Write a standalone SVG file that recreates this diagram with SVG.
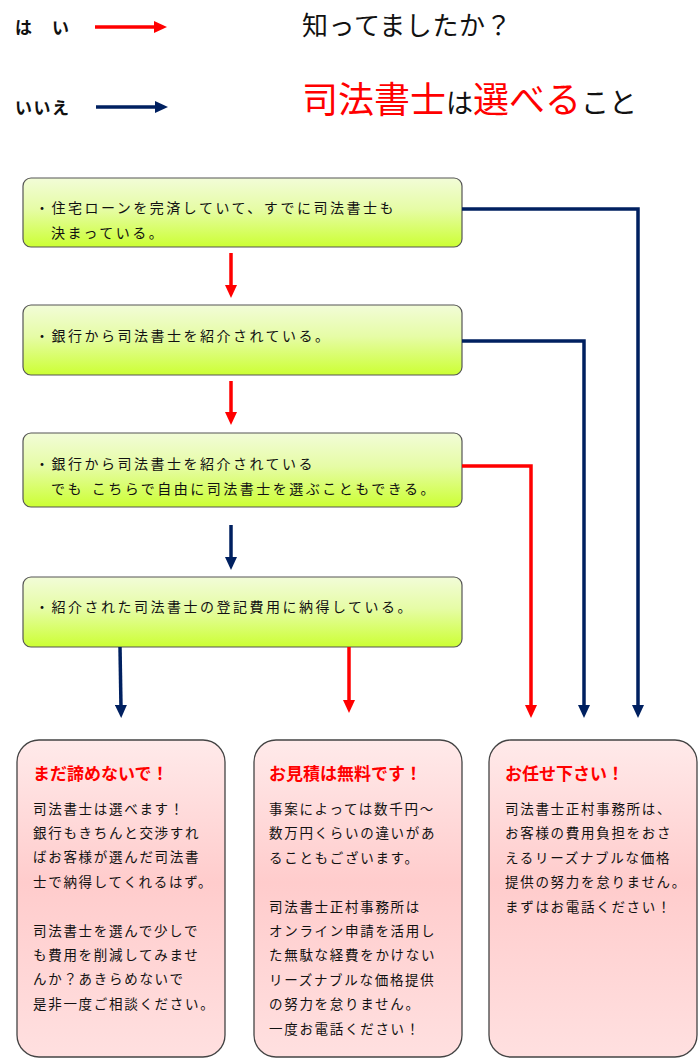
<svg xmlns="http://www.w3.org/2000/svg" width="700" height="1060" viewBox="0 0 700 1060">
<style>
text{font-family:"Noto Sans CJK JP","Noto Sans",sans-serif;fill:#111}
.leg{font-size:17px;font-weight:bold;letter-spacing:1.5px}
.nt{font-size:14px;letter-spacing:2.5px}
.bt{font-size:13.5px;letter-spacing:1.7px}
.ht{font-size:17px;font-weight:bold;fill:#ff0000}
.node rect{stroke:#555;stroke-width:1.2}
.res rect{stroke:#444;stroke-width:1.3}
.r{stroke:#ff0000;stroke-width:3.5;fill:none}
.n{stroke:#002060;stroke-width:3.5;fill:none}
</style>
<defs>
<linearGradient id="g" x1="0" y1="0" x2="0" y2="1">
<stop offset="0" stop-color="#f2fcd8"/>
<stop offset="0.45" stop-color="#e6fca6"/>
<stop offset="1" stop-color="#ccff33"/>
</linearGradient>
<linearGradient id="p" x1="0" y1="0" x2="0" y2="1">
<stop offset="0" stop-color="#ffeaea"/>
<stop offset="0.45" stop-color="#ffcccc"/>
<stop offset="1" stop-color="#ffe0e0"/>
</linearGradient>
<marker id="ar" markerUnits="userSpaceOnUse" markerWidth="13" markerHeight="12" refX="3" refY="6" orient="auto"><path d="M0,0 L13,6 L0,12 z" fill="#ff0000"/></marker>
<marker id="an" markerUnits="userSpaceOnUse" markerWidth="13" markerHeight="12" refX="3" refY="6" orient="auto"><path d="M0,0 L13,6 L0,12 z" fill="#002060"/></marker>
</defs>

<g id="legend">
<text class="leg" x="15" y="34">は　い</text>
<line class="r" x1="95" y1="27" x2="157" y2="27" marker-end="url(#ar)"/>
<text class="leg" x="15" y="114">いいえ</text>
<line class="n" x1="96" y1="107" x2="158" y2="107" marker-end="url(#an)"/>
</g>

<g id="title">
<text x="302" y="35" style="font-size:26px;letter-spacing:0.6px">知ってましたか？</text>
<text x="302" y="113"><tspan style="font-size:36px;fill:#ff0000">司法書士</tspan><tspan style="font-size:27px">は</tspan><tspan style="font-size:36px;fill:#ff0000">選べる</tspan><tspan style="font-size:28px">こと</tspan></text>
</g>

<g id="q1" class="node"><rect x="23" y="178" width="439" height="69" rx="8" fill="url(#g)"/>
<text class="nt" x="35" y="213">・住宅ローンを完済していて、すでに司法書士も</text>
<text class="nt" x="51" y="238">決まっている。</text></g>

<g id="q2" class="node"><rect x="23" y="305" width="439" height="70" rx="8" fill="url(#g)"/>
<text class="nt" x="35" y="341">・銀行から司法書士を紹介されている。</text></g>

<g id="q3" class="node"><rect x="23" y="433" width="439" height="74" rx="8" fill="url(#g)"/>
<text class="nt" x="35" y="469">・銀行から司法書士を紹介されている</text>
<text class="nt" x="51" y="494">でも<tspan dx="2"> </tspan>こちらで自由に司法書士を選ぶこともできる。</text></g>

<g id="q4" class="node"><rect x="23" y="577" width="439" height="70" rx="8" fill="url(#g)"/>
<text class="nt" x="35" y="612">・紹介された司法書士の登記費用に納得している。</text></g>

<g id="connectors">
<line class="r" x1="231" y1="253" x2="231" y2="288" marker-end="url(#ar)"/>
<line class="r" x1="231" y1="381" x2="231" y2="415" marker-end="url(#ar)"/>
<line class="n" x1="231" y1="525" x2="231" y2="560" marker-end="url(#an)"/>
<line class="n" x1="120" y1="647" x2="121" y2="708" marker-end="url(#an)"/>
<line class="r" x1="349" y1="647" x2="349" y2="703" marker-end="url(#ar)"/>
<polyline class="r" points="462,466 531,466 531,708" marker-end="url(#ar)"/>
<polyline class="n" points="462,341 584,341 584,708" marker-end="url(#an)"/>
<polyline class="n" points="462,209 638,209 638,708" marker-end="url(#an)"/>
</g>

<g id="a1" class="res"><rect x="17" y="740" width="208" height="317" rx="22" fill="url(#p)"/>
<text class="ht" x="33" y="780">まだ諦めないで！</text>
<text class="bt" x="33" y="814">司法書士は選べます！</text>
<text class="bt" x="33" y="838">銀行もきちんと交渉すれ</text>
<text class="bt" x="33" y="862">ばお客様が選んだ司法書</text>
<text class="bt" x="33" y="887">士で納得してくれるはず。</text>
<text class="bt" x="33" y="936">司法書士を選んで少しで</text>
<text class="bt" x="33" y="960">も費用を削減してみませ</text>
<text class="bt" x="33" y="984">んか？あきらめないで</text>
<text class="bt" x="33" y="1009">是非一度ご相談ください。</text></g>

<g id="a2" class="res"><rect x="254" y="740" width="208" height="317" rx="22" fill="url(#p)"/>
<text class="ht" x="269" y="780">お見積は無料です！</text>
<text class="bt" x="269" y="814">事案によっては数千円～</text>
<text class="bt" x="269" y="838">数万円くらいの違いがあ</text>
<text class="bt" x="269" y="863">ることもございます。</text>
<text class="bt" x="269" y="912">司法書士正村事務所は</text>
<text class="bt" x="269" y="936">オンライン申請を活用し</text>
<text class="bt" x="269" y="960">た無駄な経費をかけない</text>
<text class="bt" x="269" y="985">リーズナブルな価格提供</text>
<text class="bt" x="269" y="1009">の努力を怠りません。</text>
<text class="bt" x="269" y="1034">一度お電話ください！</text></g>

<g id="a3" class="res"><rect x="489" y="740" width="208" height="317" rx="22" fill="url(#p)"/>
<text class="ht" x="505" y="780">お任せ下さい！</text>
<text class="bt" x="505" y="814">司法書士正村事務所は、</text>
<text class="bt" x="505" y="838">お客様の費用負担をおさ</text>
<text class="bt" x="505" y="863">えるリーズナブルな価格</text>
<text class="bt" x="505" y="887">提供の努力を怠りません。</text>
<text class="bt" x="505" y="912">まずはお電話ください！</text></g>
</svg>
